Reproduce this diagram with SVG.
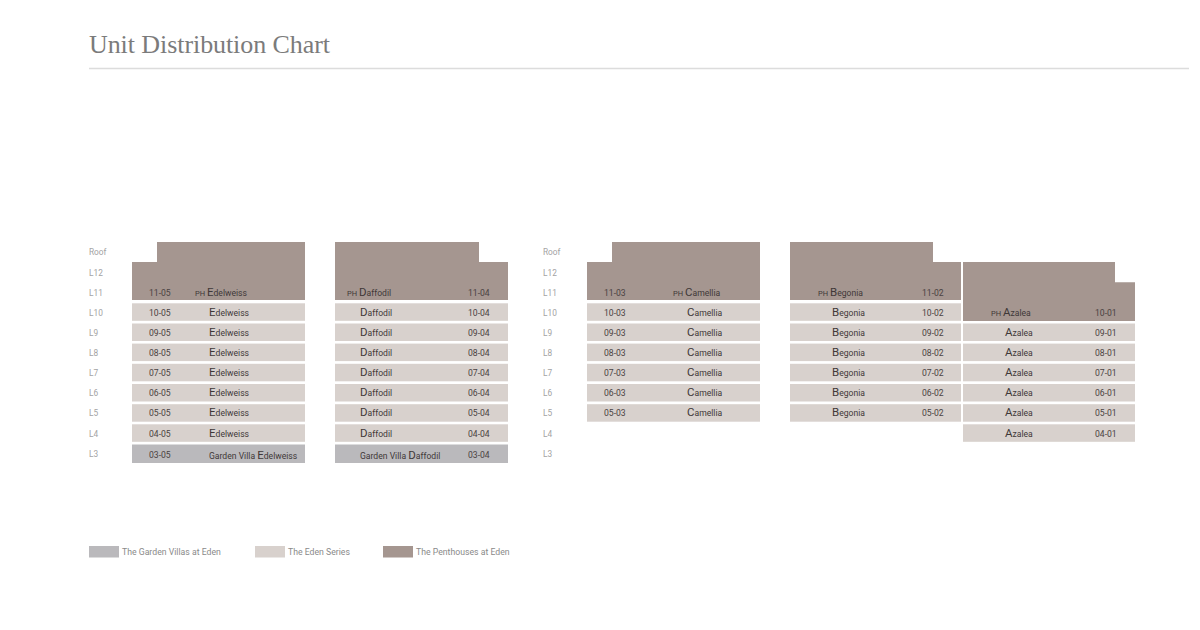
<svg xmlns="http://www.w3.org/2000/svg" width="1200" height="630" viewBox="0 0 1200 630">
<style>
.title{font-family:"Liberation Serif",serif;font-size:26px;fill:#7b7b7b}
.lv{font-family:Roboto,"Liberation Sans",sans-serif;font-size:8.3px;fill:#a3a3a3}
.num{font-family:Roboto,"Liberation Sans",sans-serif;font-size:8.6px;fill:#4a4242}
.nm{font-family:Roboto,"Liberation Sans",sans-serif;font-size:8.6px;fill:#3f3838}
.big{font-size:11.5px}
.ph{font-size:7.5px}
.pen{fill:#a59690}
.eden{fill:#d8d1cd}
.gv{fill:#bab9bc}
.leg{font-family:Roboto,"Liberation Sans",sans-serif;font-size:8.7px;fill:#8a8a8a}
</style>
<rect width="1200" height="630" fill="#ffffff"/>
<text class="title" x="89" y="53" textLength="241" lengthAdjust="spacing">Unit Distribution Chart</text>
<line x1="89" y1="68.5" x2="1189" y2="68.5" stroke="#dcdcdc" stroke-width="1.5"/>

<g id="levels-left" class="lv">
<text x="89" y="255">Roof</text><text x="89" y="275.5">L12</text><text x="89" y="295.6">L11</text><text x="89" y="315.5">L10</text><text x="89" y="335.7">L9</text><text x="89" y="355.8">L8</text><text x="89" y="376">L7</text><text x="89" y="396.2">L6</text><text x="89" y="416.4">L5</text><text x="89" y="436.5">L4</text><text x="89" y="456.7">L3</text>
</g>
<g id="levels-right" class="lv">
<text x="543" y="255">Roof</text><text x="543" y="275.5">L12</text><text x="543" y="295.6">L11</text><text x="543" y="315.5">L10</text><text x="543" y="335.7">L9</text><text x="543" y="355.8">L8</text><text x="543" y="376">L7</text><text x="543" y="396.2">L6</text><text x="543" y="416.4">L5</text><text x="543" y="436.5">L4</text><text x="543" y="456.7">L3</text>
</g>

<g id="col-edelweiss">
<path class="pen" d="M157,242H305V300H132V262H157Z"/>
<text class="num" x="149" y="296">11-05</text><text class="nm" x="195" y="296"><tspan class="ph">PH </tspan><tspan class="big">E</tspan>delweiss</text>
<rect class="eden" x="132" y="303.3" width="173" height="17.5"/><text class="num" x="149" y="315.5">10-05</text><text class="nm" x="209" y="315.5"><tspan class="big">E</tspan>delweiss</text>
<rect class="eden" x="132" y="323.5" width="173" height="17.5"/><text class="num" x="149" y="335.7">09-05</text><text class="nm" x="209" y="335.7"><tspan class="big">E</tspan>delweiss</text>
<rect class="eden" x="132" y="343.6" width="173" height="17.5"/><text class="num" x="149" y="355.8">08-05</text><text class="nm" x="209" y="355.8"><tspan class="big">E</tspan>delweiss</text>
<rect class="eden" x="132" y="363.8" width="173" height="17.5"/><text class="num" x="149" y="376">07-05</text><text class="nm" x="209" y="376"><tspan class="big">E</tspan>delweiss</text>
<rect class="eden" x="132" y="384" width="173" height="17.5"/><text class="num" x="149" y="396.2">06-05</text><text class="nm" x="209" y="396.2"><tspan class="big">E</tspan>delweiss</text>
<rect class="eden" x="132" y="404.2" width="173" height="17.5"/><text class="num" x="149" y="416.4">05-05</text><text class="nm" x="209" y="416.4"><tspan class="big">E</tspan>delweiss</text>
<rect class="eden" x="132" y="424.3" width="173" height="17.5"/><text class="num" x="149" y="436.5">04-05</text><text class="nm" x="209" y="436.5"><tspan class="big">E</tspan>delweiss</text>
<rect class="gv" x="132" y="444.5" width="173" height="18.5"/><text class="num" x="149" y="457.5">03-05</text><text class="nm" x="209" y="459">Garden Villa <tspan class="big">E</tspan>delweiss</text>
</g>

<g id="col-daffodil">
<path class="pen" d="M335,242H479V262H508V300H335Z"/>
<text class="nm" x="347" y="296"><tspan class="ph">PH </tspan><tspan class="big">D</tspan>affodil</text><text class="num" x="468" y="296">11-04</text>
<rect class="eden" x="335" y="303.3" width="173" height="17.5"/><text class="nm" x="360" y="315.5"><tspan class="big">D</tspan>affodil</text><text class="num" x="468" y="315.5">10-04</text>
<rect class="eden" x="335" y="323.5" width="173" height="17.5"/><text class="nm" x="360" y="335.7"><tspan class="big">D</tspan>affodil</text><text class="num" x="468" y="335.7">09-04</text>
<rect class="eden" x="335" y="343.6" width="173" height="17.5"/><text class="nm" x="360" y="355.8"><tspan class="big">D</tspan>affodil</text><text class="num" x="468" y="355.8">08-04</text>
<rect class="eden" x="335" y="363.8" width="173" height="17.5"/><text class="nm" x="360" y="376"><tspan class="big">D</tspan>affodil</text><text class="num" x="468" y="376">07-04</text>
<rect class="eden" x="335" y="384" width="173" height="17.5"/><text class="nm" x="360" y="396.2"><tspan class="big">D</tspan>affodil</text><text class="num" x="468" y="396.2">06-04</text>
<rect class="eden" x="335" y="404.2" width="173" height="17.5"/><text class="nm" x="360" y="416.4"><tspan class="big">D</tspan>affodil</text><text class="num" x="468" y="416.4">05-04</text>
<rect class="eden" x="335" y="424.3" width="173" height="17.5"/><text class="nm" x="360" y="436.5"><tspan class="big">D</tspan>affodil</text><text class="num" x="468" y="436.5">04-04</text>
<rect class="gv" x="335" y="444.5" width="173" height="18.5"/><text class="nm" x="360" y="459">Garden Villa <tspan class="big">D</tspan>affodil</text><text class="num" x="468" y="457.5">03-04</text>
</g>

<g id="col-camellia">
<path class="pen" d="M612,242H760V300H587V262H612Z"/>
<text class="num" x="604" y="296">11-03</text><text class="nm" x="673" y="296"><tspan class="ph">PH </tspan><tspan class="big">C</tspan>amellia</text>
<rect class="eden" x="587" y="303.3" width="173" height="17.5"/><text class="num" x="604" y="315.5">10-03</text><text class="nm" x="687" y="315.5"><tspan class="big">C</tspan>amellia</text>
<rect class="eden" x="587" y="323.5" width="173" height="17.5"/><text class="num" x="604" y="335.7">09-03</text><text class="nm" x="687" y="335.7"><tspan class="big">C</tspan>amellia</text>
<rect class="eden" x="587" y="343.6" width="173" height="17.5"/><text class="num" x="604" y="355.8">08-03</text><text class="nm" x="687" y="355.8"><tspan class="big">C</tspan>amellia</text>
<rect class="eden" x="587" y="363.8" width="173" height="17.5"/><text class="num" x="604" y="376">07-03</text><text class="nm" x="687" y="376"><tspan class="big">C</tspan>amellia</text>
<rect class="eden" x="587" y="384" width="173" height="17.5"/><text class="num" x="604" y="396.2">06-03</text><text class="nm" x="687" y="396.2"><tspan class="big">C</tspan>amellia</text>
<rect class="eden" x="587" y="404.2" width="173" height="17.5"/><text class="num" x="604" y="416.4">05-03</text><text class="nm" x="687" y="416.4"><tspan class="big">C</tspan>amellia</text>
</g>

<g id="col-begonia">
<path class="pen" d="M790,242H933V262H961V300H790Z"/>
<text class="nm" x="818" y="296"><tspan class="ph">PH </tspan><tspan class="big">B</tspan>egonia</text><text class="num" x="922" y="296">11-02</text>
<rect class="eden" x="790" y="303.3" width="171" height="17.5"/><text class="nm" x="832" y="315.5"><tspan class="big">B</tspan>egonia</text><text class="num" x="922" y="315.5">10-02</text>
<rect class="eden" x="790" y="323.5" width="171" height="17.5"/><text class="nm" x="832" y="335.7"><tspan class="big">B</tspan>egonia</text><text class="num" x="922" y="335.7">09-02</text>
<rect class="eden" x="790" y="343.6" width="171" height="17.5"/><text class="nm" x="832" y="355.8"><tspan class="big">B</tspan>egonia</text><text class="num" x="922" y="355.8">08-02</text>
<rect class="eden" x="790" y="363.8" width="171" height="17.5"/><text class="nm" x="832" y="376"><tspan class="big">B</tspan>egonia</text><text class="num" x="922" y="376">07-02</text>
<rect class="eden" x="790" y="384" width="171" height="17.5"/><text class="nm" x="832" y="396.2"><tspan class="big">B</tspan>egonia</text><text class="num" x="922" y="396.2">06-02</text>
<rect class="eden" x="790" y="404.2" width="171" height="17.5"/><text class="nm" x="832" y="416.4"><tspan class="big">B</tspan>egonia</text><text class="num" x="922" y="416.4">05-02</text>
</g>

<g id="col-azalea">
<path class="pen" d="M963,262H1115V282.3H1135V321H963Z"/>
<text class="nm" x="991" y="316"><tspan class="ph">PH </tspan><tspan class="big">A</tspan>zalea</text><text class="num" x="1095" y="316">10-01</text>
<rect class="eden" x="963" y="323.5" width="172" height="17.5"/><text class="nm" x="1005" y="335.7"><tspan class="big">A</tspan>zalea</text><text class="num" x="1095" y="335.7">09-01</text>
<rect class="eden" x="963" y="343.6" width="172" height="17.5"/><text class="nm" x="1005" y="355.8"><tspan class="big">A</tspan>zalea</text><text class="num" x="1095" y="355.8">08-01</text>
<rect class="eden" x="963" y="363.8" width="172" height="17.5"/><text class="nm" x="1005" y="376"><tspan class="big">A</tspan>zalea</text><text class="num" x="1095" y="376">07-01</text>
<rect class="eden" x="963" y="384" width="172" height="17.5"/><text class="nm" x="1005" y="396.2"><tspan class="big">A</tspan>zalea</text><text class="num" x="1095" y="396.2">06-01</text>
<rect class="eden" x="963" y="404.2" width="172" height="17.5"/><text class="nm" x="1005" y="416.4"><tspan class="big">A</tspan>zalea</text><text class="num" x="1095" y="416.4">05-01</text>
<rect class="eden" x="963" y="424.3" width="172" height="17.5"/><text class="nm" x="1005" y="436.5"><tspan class="big">A</tspan>zalea</text><text class="num" x="1095" y="436.5">04-01</text>
</g>

<g id="connectors"></g>

<g id="legend">
<rect class="gv" x="89" y="546" width="30" height="11.5"/><text class="leg" x="122" y="555">The Garden Villas at Eden</text>
<rect class="eden" x="255" y="546" width="30" height="11.5"/><text class="leg" x="288" y="555">The Eden Series</text>
<rect class="pen" x="383" y="546" width="30" height="11.5"/><text class="leg" x="416" y="555">The Penthouses at Eden</text>
</g>
</svg>
